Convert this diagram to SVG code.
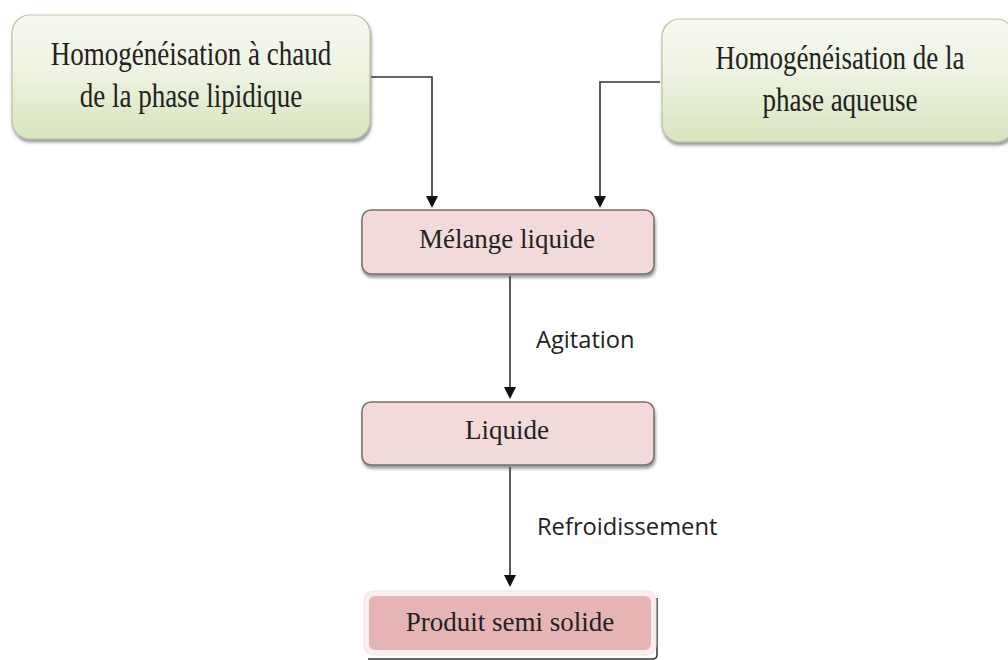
<svg xmlns="http://www.w3.org/2000/svg" width="1008" height="660" viewBox="0 0 1008 660">
<defs>
<linearGradient id="gGreen" x1="0" y1="0" x2="0" y2="1">
<stop offset="0" stop-color="#f7f9f1"/>
<stop offset="0.45" stop-color="#eef3e2"/>
<stop offset="1" stop-color="#d7e4bd"/>
</linearGradient>
<filter id="sh" x="-5%" y="-5%" width="112%" height="125%">
<feDropShadow dx="1" dy="3" stdDeviation="1.5" flood-color="#555" flood-opacity="0.6"/>
</filter>
<marker id="ah" viewBox="0 0 10 10" refX="0" refY="5" markerWidth="12" markerHeight="12" orient="auto" markerUnits="userSpaceOnUse">
<path d="M0,0 L10,5 L0,10 z" fill="#111"/>
</marker>
</defs>
<style>
.g{fill:url(#gGreen);stroke:#b9c3a6;stroke-width:1.2}
.p{fill:#f2dada;stroke:#7a6e6e;stroke-width:1.5}
.t{font-family:"Liberation Serif","Times New Roman",serif;font-size:27px;fill:#222;text-anchor:middle}
.l{font-family:"Open Sans","Liberation Sans",sans-serif;font-size:23.7px;fill:#222}
.c{fill:none;stroke:#333;stroke-width:1.6}
</style>
<rect width="1008" height="660" fill="#ffffff"/>
<g id="connectors">
<path class="c" d="M371,77 H432 V196" marker-end="url(#ah)"/>
<path class="c" d="M660,82 H600 V196" marker-end="url(#ah)"/>
<path class="c" d="M510,276 V387" marker-end="url(#ah)"/>
<path class="c" d="M510,467 V575" marker-end="url(#ah)"/>
</g>
<g id="n1">
<rect class="g" x="12" y="15" width="358" height="124" rx="18" filter="url(#sh)"/>
<text class="t" transform="translate(191,65) scale(1,1.28)">Homogénéisation à chaud</text>
<text class="t" transform="translate(191,107) scale(1,1.28)">de la phase lipidique</text>
</g>
<g id="n2">
<rect class="g" x="662" y="19" width="352" height="123" rx="18" filter="url(#sh)"/>
<text class="t" transform="translate(840,69) scale(1,1.28)">Homogénéisation de la</text>
<text class="t" transform="translate(840,111) scale(1,1.28)">phase aqueuse</text>
</g>
<g id="n3">
<rect class="p" x="362" y="210" width="292" height="64" rx="9" filter="url(#sh)"/>
<text class="t" x="507" y="248">Mélange liquide</text>
</g>
<g id="n4">
<rect class="p" x="362" y="402" width="292" height="63" rx="9" filter="url(#sh)"/>
<text class="t" x="507" y="439">Liquide</text>
</g>
<g id="n5">
<path d="M657,598 V655 Q657,659 652,659 H368" fill="none" stroke="#333" stroke-width="1.5"/>
<rect x="364" y="591" width="292" height="64" rx="9" fill="#fbeeee" stroke="#f3e3e3" stroke-width="1"/>
<rect x="369" y="596" width="282" height="54" rx="6" fill="#e6b4b4"/>
<text class="t" x="510" y="631">Produit semi solide</text>
</g>
<g id="labels">
<text class="l" x="536" y="348">Agitation</text>
<text class="l" x="537" y="535">Refroidissement</text>
</g>
</svg>
